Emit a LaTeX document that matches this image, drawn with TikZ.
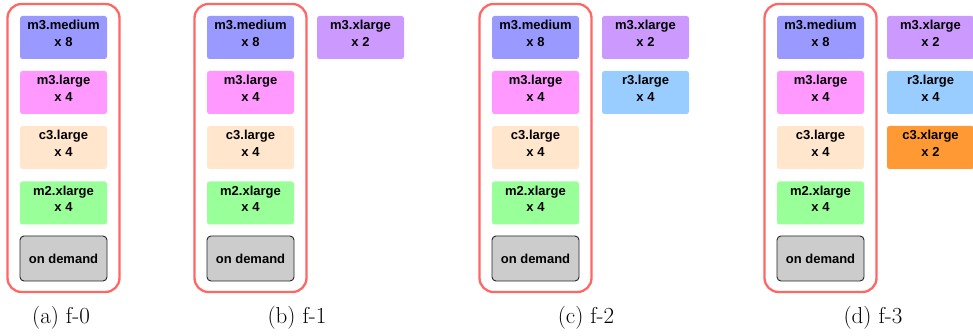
\documentclass[tikz,border=0pt]{standalone}
\usepackage{fontspec}
\newfontfamily\boxfont{Liberation Sans}
\definecolor{cmed}{HTML}{9999FF}
\definecolor{clarge}{HTML}{FF99FF}
\definecolor{cclarge}{HTML}{FFE6CC}
\definecolor{cmtwo}{HTML}{99FF99}
\definecolor{cdem}{HTML}{CCCCCC}
\definecolor{cmx}{HTML}{CC99FF}
\definecolor{crthree}{HTML}{99CCFF}
\definecolor{ccx}{HTML}{FF9933}
\definecolor{cframe}{HTML}{FF6666}
\tikzset{
  instbase/.style={rounded corners=2.5pt, minimum width=87pt, minimum height=43pt,
    inner sep=0pt, align=center, font=\boxfont\fontsize{13}{16.5}\selectfont\bfseries, text=black},
  inst/.style={instbase, text depth=8pt},
  demand/.style={instbase, draw=black!85, line width=0.9pt, fill=cdem, minimum height=45pt, rounded corners=4pt},
  frame/.style={draw=cframe, line width=2.3pt, rounded corners=14pt},
  subcap/.style={font=\fontsize{23}{27}\selectfont, anchor=center}
}
\begin{document}
\begin{tikzpicture}[x=1pt,y=-1pt]
\useasboundingbox (0,0) rectangle (973,336);
\foreach \p/\xo in {a/20,b/207,c/492,d/777}{
  \node[frame, minimum width=112pt, minimum height=288pt, inner sep=0pt] (frame-\p) at (\xo+43.5,148) {};
  \node[inst, fill=cmed] (med-\p) at (\xo+43.5,37.5) {m3.medium\\x 8};
  \node[inst, fill=clarge] (lar-\p) at (\xo+43.5,92.5) {m3.large\\x 4};
  \node[inst, fill=cclarge] (cl-\p) at (\xo+43.5,147.5) {c3.large\\x 4};
  \node[inst, fill=cmtwo] (mx-\p) at (\xo+43.5,203) {m2.xlarge\\x 4};
  \node[demand] (dem-\p) at (\xo+43.5,258.5) {on demand};
}
\node[inst, fill=cmx] (mxl-b) at (360.5,37.5) {m3.xlarge\\x 2};
\node[inst, fill=cmx] (mxl-c) at (645.5,37.5) {m3.xlarge\\x 2};
\node[inst, fill=crthree] (r3-c) at (645.5,92.5) {r3.large\\x 4};
\node[inst, fill=cmx] (mxl-d) at (930.5,37.5) {m3.xlarge\\x 2};
\node[inst, fill=crthree] (r3-d) at (930.5,92.5) {r3.large\\x 4};
\node[inst, fill=ccx] (cx-d) at (930.5,147.5) {c3.xlarge\\x 2};
\node[subcap] (cap-a) at (61,318) {(a) f-0};
\node[subcap] (cap-b) at (297,318) {(b) f-1};
\node[subcap] (cap-c) at (586,318) {(c) f-2};
\node[subcap] (cap-d) at (873,318) {(d) f-3};
\end{tikzpicture}
\end{document}
